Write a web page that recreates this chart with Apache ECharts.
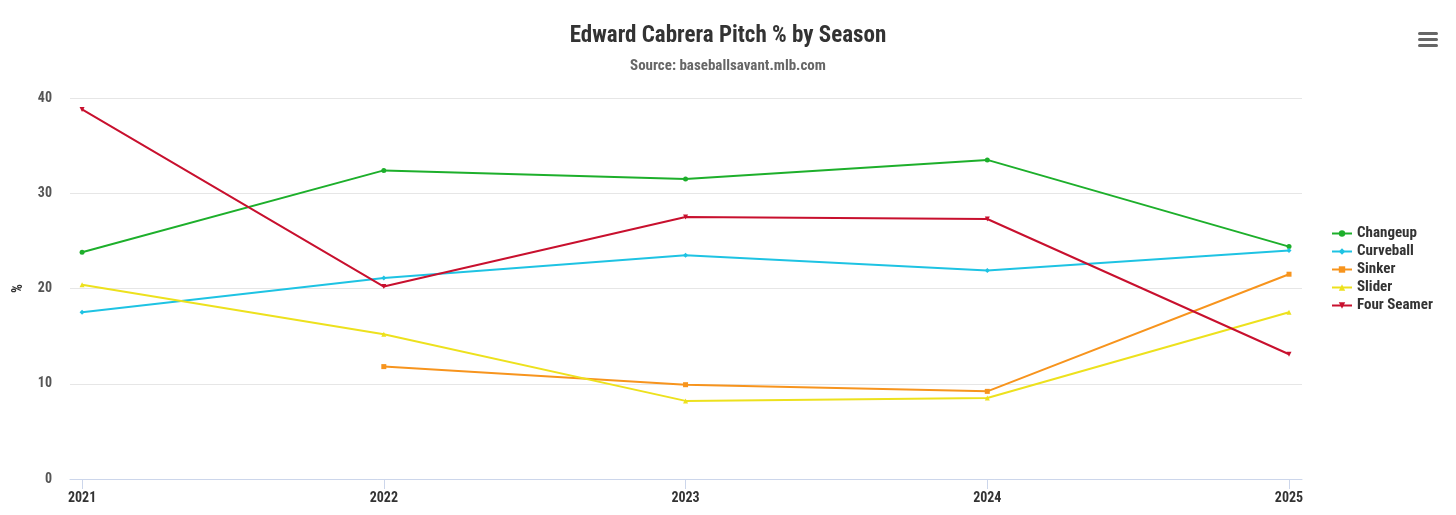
<!DOCTYPE html>
<html><head><meta charset="utf-8">
<script src="https://cdn.jsdelivr.net/npm/echarts@6/dist/echarts.min.js"></script>
<style>html,body{margin:0;padding:0;background:#fff}#c{width:1456px;height:515px}</style>
</head><body><div id="c"></div>
<script>
const years = [2021, 2022, 2023, 2024, 2025];
const changeup = [23.8, 32.4, 31.5, 33.5, 24.4];
const curveball = [17.5, 21.1, 23.5, 21.9, 24.0];
const sinker = [null, 11.8, 9.9, 9.2, 21.5];
const slider = [20.4, 15.2, 8.2, 8.5, 17.5];
const fourSeamer = [38.8, 20.2, 27.5, 27.3, 13.1];
const yTicks = [0, 10, 20, 30, 40];

const FONT = '"Roboto Condensed", "Liberation Sans Narrow", "Roboto", sans-serif';
const seriesDefs = [
  {name: 'Changeup', data: changeup, color: '#1DAF2B', symbol: 'circle'},
  {name: 'Curveball', data: curveball, color: '#1EC3E3', symbol: 'diamond'},
  {name: 'Sinker', data: sinker, color: '#F7941D', symbol: 'rect'},
  {name: 'Slider', data: slider, color: '#EDE11D', symbol: 'triangle'},
  {name: 'Four Seamer', data: fourSeamer, color: '#C8102E', symbol: 'path://M0,0 L10,0 L5,10 Z'}
];
const chart = echarts.init(document.getElementById('c'));
chart.setOption({
  animation: false,
  textStyle: {fontFamily: FONT},
  title: {
    text: 'Edward Cabrera Pitch % by Season',
    subtext: 'Source: baseballsavant.mlb.com',
    left: 'center', top: 20, itemGap: 11,
    textStyle: {fontFamily: FONT, fontWeight: 'bold', fontSize: 23, color: '#333'},
    subtextStyle: {fontFamily: FONT, fontWeight: 'bold', fontSize: 15, color: '#666'}
  },
  legend: {
    orient: 'vertical', left: 1326, top: 221, itemGap: 3,
    itemWidth: 20, itemHeight: 8,
    textStyle: {fontFamily: FONT, fontWeight: 'bold', fontSize: 15, color: '#333'},
    data: seriesDefs.map(s => s.name)
  },
  grid: {left: 70, right: 154, top: 98, bottom: 36, containLabel: false},
  xAxis: {
    type: 'value', min: 2020.96, max: 2025.043,
    axisLine: {show: true, lineStyle: {color: '#ccd6eb', width: 1}},
    axisTick: {show: true, customValues: years, length: 10, lineStyle: {color: '#ccd6eb'}},
    axisLabel: {customValues: years, formatter: v => String(v), margin: 12,
      fontFamily: FONT, fontWeight: 'bold', fontSize: 14, color: '#333'},
    splitLine: {show: false}
  },
  yAxis: {
    type: 'value', min: 0, max: 40, interval: 10,
    name: '%', nameLocation: 'middle', nameGap: 45, nameRotate: 90,
    nameTextStyle: {fontFamily: FONT, fontWeight: 'bold', fontSize: 14, color: '#333'},
    axisLine: {show: false}, axisTick: {show: false},
    axisLabel: {margin: 18, fontFamily: FONT, fontWeight: 'bold', fontSize: 14, color: '#555'},
    splitLine: {lineStyle: {color: '#e6e6e6', width: 1}}
  },
  graphic: [
    {type: 'rect', shape: {x: 1418, y: 32, width: 20, height: 3, r: 1.5}, style: {fill: '#666'}},
    {type: 'rect', shape: {x: 1418, y: 38, width: 20, height: 3, r: 1.5}, style: {fill: '#666'}},
    {type: 'rect', shape: {x: 1418, y: 44, width: 20, height: 3, r: 1.5}, style: {fill: '#666'}}
  ],
  series: seriesDefs.map(s => ({
    name: s.name, type: 'line',
    data: years.map((y, i) => [y, s.data[i]]),
    color: s.color, symbol: s.symbol, symbolSize: 5, showSymbol: true,
    lineStyle: {width: 2, color: s.color},
    itemStyle: {color: s.color},
    connectNulls: false
  }))
});
</script></body></html>
